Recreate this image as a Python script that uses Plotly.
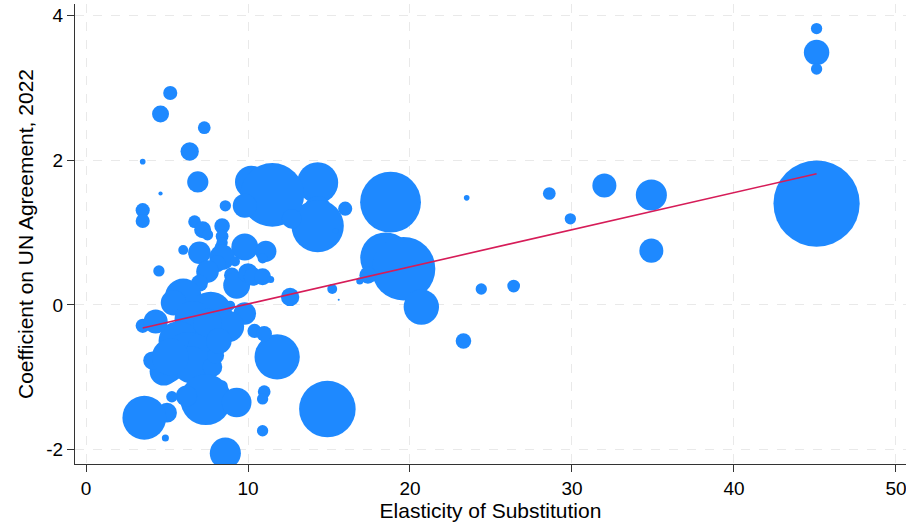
import plotly.graph_objects as go
import numpy as np

# Elasticity of substitution (x), coefficient on UN agreement (y), bubble weight
elasticity = [45.1, 45.1, 45.1, 45.1, 34.9, 34.9, 32.0, 29.9, 28.6, 26.4, 24.4, 23.5, 23.3,
              18.8, 14.3, 14.3, 14.3, 16.0, 15.4, 18.5, 19.6, 17.4, 16.9, 15.2, 15.6, 20.7,
              11.8, 14.9,
              5.2, 4.6, 7.3, 6.4, 3.5, 6.9, 4.6, 3.5, 3.5, 8.6, 10.2, 11.5, 9.8, 12.7,
              6.7, 7.2, 7.5, 8.4, 8.4, 8.4, 6.0, 7.0, 9.8, 11.1, 8.3, 8.4, 8.1, 9.2,
              4.5, 7.5, 7.0, 9.0, 9.3, 10.0, 10.3, 10.9, 11.4, 10.9, 12.6, 8.9, 9.8,
              10.4, 11.0,
              6.0, 5.4, 7.7, 6.6, 7.2, 6.9, 8.8, 5.7, 6.3, 7.4, 5.0, 6.5, 7.8, 8.0,
              4.8, 4.1, 7.5, 8.2, 3.5, 4.3, 5.2,
              11.0, 10.9, 10.9, 8.4, 7.4, 6.2, 9.3, 5.3, 5.0, 3.6, 4.9, 8.6]
coef_un = [3.82, 3.49, 3.26, 1.40, 1.52, 0.75, 1.65, 1.19, 1.54, 0.26, 0.22, 1.48, -0.50,
           1.42, 1.69, 1.31, 1.09, 1.33, 1.02, 0.65, 0.50, 0.41, 0.33, 0.22, 0.07, -0.03,
           -0.72, -1.44,
           2.93, 2.64, 2.45, 2.12, 1.98, 1.70, 1.54, 1.31, 1.16, 1.37, 1.70, 1.52, 1.37, 1.19,
           1.15, 1.04, 0.97, 1.09, 0.95, 0.86, 0.76, 0.72, 0.80, 0.74, 0.80, 0.66, 0.57, 0.60,
           0.47, 0.46, 0.30, 0.41, 0.27, 0.44, 0.39, 0.39, 0.35, 0.64, 0.11, -0.01, -0.12,
           -0.36, -0.40,
           0.11, 0.03, -0.11, -0.20, -0.35, -0.44, -0.30, -0.50, -0.65, -0.60, -0.85, -0.83,
           -0.86, -0.70, -0.92, -0.77, -0.25, -0.50, -0.29, -0.23, -0.72,
           -1.20, -1.30, -1.74, -1.12, -1.31, -1.26, -1.35, -1.27, -1.49, -1.56, -1.84, -2.05]
weight = [64, 324, 64, 3721, 484, 289, 289, 64, 81, 81, 64, 16, 121,
          1849, 841, 400, 1369, 100, 16, 1296, 2025, 144, 25, 49, 2, 625,
          1024, 1600,
          100, 144, 81, 169, 16, 225, 9, 100, 100, 64, 529, 2025, 289, 196,
          81, 144, 64, 121, 81, 64, 49, 256, 361, 225, 64, 324, 144, 49,
          64, 256, 144, 121, 361, 196, 169, 144, 25, 49, 169, 49, 256,
          100, 121,
          676, 324, 900, 676, 784, 900, 484, 784, 784, 676, 576, 676, 196, 144,
          400, 169, 400, 324, 100, 289, 676,
          81, 64, 64, 64, 1296, 225, 441, 64, 196, 961, 25, 484]

# Fitted line
fit_intercept = -0.50
fit_slope = 0.0513

x_ticks = [0, 10, 20, 30, 40, 50]
x_tick_labels = ["0", "10", "20", "30", "40", "50"]
y_ticks = [-2, 0, 2, 4]
y_tick_labels = ["-2", "0", "2", "4"]

fig = go.Figure()
fig.add_trace(go.Scatter(
    x=elasticity, y=coef_un, mode="markers",
    marker=dict(size=weight, sizemode="area", sizeref=1, sizemin=1, opacity=1,
                color="rgb(30,137,255)", line=dict(width=0)),
    showlegend=False, hoverinfo="x+y"))

xf = np.array([min(elasticity), max(elasticity)])
fig.add_trace(go.Scatter(
    x=xf, y=fit_intercept + fit_slope * xf, mode="lines",
    line=dict(color="rgb(214,28,88)", width=1.6), showlegend=False))

font = "Liberation Sans, Arial, Helvetica, sans-serif"
axis_common = dict(ticks="outside", ticklen=7, tickcolor="#333", showline=True,
                   linecolor="#333", linewidth=1, showgrid=True, gridcolor="#e9e9e9",
                   griddash="dash", gridwidth=1, zeroline=False, automargin=False,
                   ticklabeloverflow="allow", tickfont=dict(size=19))
fig.update_layout(
    width=906, height=525,
    margin=dict(l=75, r=0, t=4, b=61),
    paper_bgcolor="white", plot_bgcolor="white",
    font=dict(family=font, size=19, color="black"),
    xaxis=dict(range=[-0.68, 50.62], tickvals=x_ticks, ticktext=x_tick_labels, **axis_common,
               title=dict(text="Elasticity of Substitution", font=dict(size=21), standoff=4)),
    yaxis=dict(range=[-2.20, 4.16], tickvals=y_ticks, ticktext=y_tick_labels, **axis_common,
               title=dict(text="Coefficient on UN Agreement, 2022", font=dict(size=21), standoff=6)),
)
fig.write_html("out.html", config={"displayModeBar": False},
               post_script="document.body.style.margin='0px';")
